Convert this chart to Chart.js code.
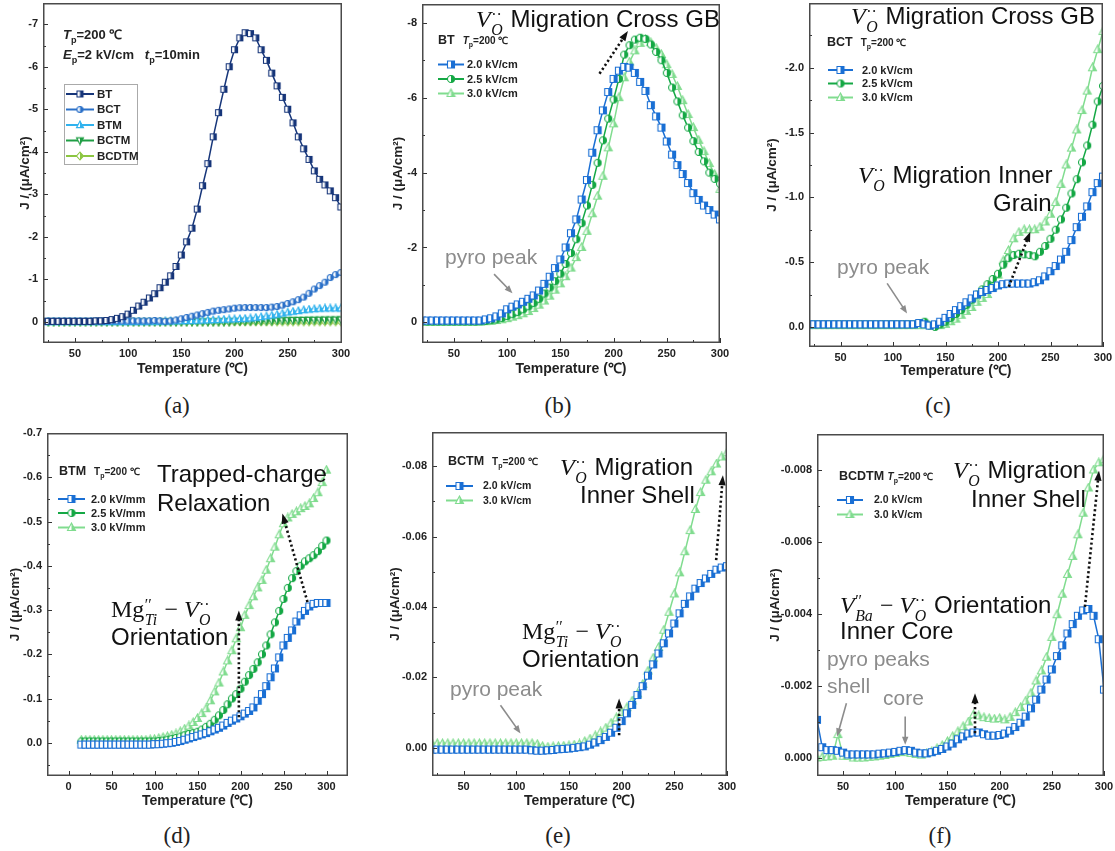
<!DOCTYPE html>
<html>
<head>
<meta charset="utf-8">
<title>TSDC current curves</title>
<script src="https://cdn.jsdelivr.net/npm/chart.js@4.4.1/dist/chart.umd.min.js"></script>
<style>
html,body{margin:0;padding:0;background:#fff}
#fig{position:relative;width:1115px;height:851px;overflow:hidden;background:#fff;font-family:"Liberation Sans",Arial,sans-serif}
#fig canvas{position:absolute}
.t{position:absolute;white-space:nowrap;line-height:1;color:#111}
.big{font-size:24px}
.gray{color:#8c8c8c;font-size:21px}
.hdr{font-weight:bold;font-size:12.5px;color:#222}
.hdr .tp{font-size:10px;margin-left:8px}
.hdr sub{font-size:0.7em}
.cap{font-family:"Liberation Serif","Times New Roman",serif;font-size:23px;color:#222;transform:translate(-50%,-50%)}
.math{font-family:"Liberation Serif","Times New Roman",serif;font-size:24px}
.mi{font-style:italic}
.ss{display:inline-flex;flex-direction:column;font-size:0.66em;line-height:0.95;vertical-align:0.42em;margin-left:0.03em;margin-right:0.08em}
</style>
</head>
<body>
<div id="fig">
  <canvas id="ca"></canvas>
  <canvas id="cb"></canvas>
  <canvas id="cc"></canvas>
  <canvas id="cd"></canvas>
  <canvas id="ce"></canvas>
  <canvas id="cf"></canvas>

  <!-- (a) -->
  <div class="t hdr" style="left:63px;top:28px;font-size:13px"><i>T</i><sub>p</sub>=200 ℃</div>
  <div class="t hdr" style="left:63px;top:48px;font-size:13px"><i>E</i><sub>p</sub>=2 kV/cm&nbsp;&nbsp;&nbsp;<i>t</i><sub>p</sub>=10min</div>

  <!-- (b) -->
  <div class="t big" style="left:476px;top:7px"><span class="math"><span class="mi">V</span><span class="ss"><span>··</span><span class="mi">O</span></span></span> Migration Cross GB</div>
  <div class="t hdr" style="left:438px;top:34px">BT<span class="tp"><i>T</i><sub>p</sub>=200 ℃</span></div>
  <div class="t gray" style="left:445px;top:246px">pyro peak</div>

  <!-- (c) -->
  <div class="t big" style="left:851px;top:4px"><span class="math"><span class="mi">V</span><span class="ss"><span>··</span><span class="mi">O</span></span></span> Migration Cross GB</div>
  <div class="t hdr" style="left:827px;top:36px">BCT<span class="tp">T<sub>p</sub>=200 ℃</span></div>
  <div class="t big" style="left:858px;top:163px"><span class="math"><span class="mi">V</span><span class="ss"><span>··</span><span class="mi">O</span></span></span> Migration Inner</div>
  <div class="t big" style="left:993px;top:191px">Grain</div>
  <div class="t gray" style="left:837px;top:256px">pyro peak</div>

  <!-- (d) -->
  <div class="t hdr" style="left:59px;top:465px">BTM<span class="tp">T<sub>p</sub>=200 ℃</span></div>
  <div class="t big" style="left:157px;top:462px">Trapped-charge</div>
  <div class="t big" style="left:157px;top:491px">Relaxation</div>
  <div class="t math" style="left:111px;top:597px">Mg<span class="ss"><span>′′</span><span class="mi">Ti</span></span> − <span class="mi">V</span><span class="ss"><span>··</span><span class="mi">O</span></span></div>
  <div class="t big" style="left:111px;top:625px">Orientation</div>

  <!-- (e) -->
  <div class="t hdr" style="left:448px;top:455px">BCTM<span class="tp">T<sub>p</sub>=200 ℃</span></div>
  <div class="t big" style="left:560px;top:455px"><span class="math"><span class="mi">V</span><span class="ss"><span>··</span><span class="mi">O</span></span></span> Migration</div>
  <div class="t big" style="left:580px;top:483px">Inner Shell</div>
  <div class="t math" style="left:522px;top:619px">Mg<span class="ss"><span>′′</span><span class="mi">Ti</span></span> − <span class="mi">V</span><span class="ss"><span>··</span><span class="mi">O</span></span></div>
  <div class="t big" style="left:522px;top:647px">Orientation</div>
  <div class="t gray" style="left:450px;top:678px">pyro peak</div>

  <!-- (f) -->
  <div class="t hdr" style="left:839px;top:470px">BCDTM <span class="tp" style="margin-left:0"><i>T</i><sub>p</sub>=200 ℃</span></div>
  <div class="t big" style="left:953px;top:458px"><span class="math"><span class="mi">V</span><span class="ss"><span>··</span><span class="mi">O</span></span></span> Migration</div>
  <div class="t big" style="left:971px;top:487px">Inner Shell</div>
  <div class="t big" style="left:840px;top:593px"><span class="math"><span class="mi">V</span><span class="ss"><span>′′</span><span class="mi">Ba</span></span> − <span class="mi">V</span><span class="ss"><span>··</span><span class="mi">O</span></span></span> Orientation</div>
  <div class="t big" style="left:840px;top:619px">Inner Core</div>
  <div class="t gray" style="left:827px;top:648px">pyro peaks</div>
  <div class="t gray" style="left:827px;top:675px">shell</div>
  <div class="t gray" style="left:883px;top:687px">core</div>

  <!-- panel captions -->
  <div class="t cap" style="left:177px;top:405px">(a)</div>
  <div class="t cap" style="left:558px;top:405px">(b)</div>
  <div class="t cap" style="left:938px;top:405px">(c)</div>
  <div class="t cap" style="left:177px;top:835px">(d)</div>
  <div class="t cap" style="left:558px;top:835px">(e)</div>
  <div class="t cap" style="left:940px;top:835px">(f)</div>
</div>

<script>
/* ==== Data: temperatures (℃) ==== */
const temps20 = [20,25,30,35,40,45,50,55,60,65,70,75,80,85,90,95,100,105,110,115,120,125,130,135,140,145,150,155,160,165,170,175,180,185,190,195,200,205,210,215,220,225,230,235,240,245,250,255,260,265,270,275,280,285,290,295,300];
const temps15 = [15,20,25,30,35,40,45,50,55,60,65,70,75,80,85,90,95,100,105,110,115,120,125,130,135,140,145,150,155,160,165,170,175,180,185,190,195,200,205,210,215,220,225,230,235,240,245,250,255,260,265,270,275,280,285,290,295,300];
const temps25 = [25,30,35,40,45,50,55,60,65,70,75,80,85,90,95,100,105,110,115,120,125,130,135,140,145,150,155,160,165,170,175,180,185,190,195,200,205,210,215,220,225,230,235,240,245,250,255,260,265,270,275,280,285,290,295,300];

/* ==== Tick labels ==== */
const xTicks = [50,100,150,200,250,300];
const xTicksD = [0,50,100,150,200,250,300];
const yTicksA = [-7,-6,-5,-4,-3,-2,-1,0];
const yTicksB = [-8,-6,-4,-2,0];
const yTicksC = [-2.0,-1.5,-1.0,-0.5,0.0];
const yTicksD = [-0.7,-0.6,-0.5,-0.4,-0.3,-0.2,-0.1,0.0];
const yTicksE = [-0.08,-0.06,-0.04,-0.02,0.00];
const yTicksF = [-0.008,-0.006,-0.004,-0.002,0.000];

/* ==== Data: J (μA/cm²) ==== */
// (a) BT, 2 kV/cm
const btA = [-0.01,-0.01,-0.01,-0.01,-0.01,-0.01,-0.01,-0.01,-0.01,-0.01,
  -0.02,-0.02,-0.03,-0.05,-0.08,-0.12,-0.18,-0.27,-0.37,-0.46,
  -0.56,-0.66,-0.80,-0.93,-1.08,-1.30,-1.57,-1.88,-2.20,-2.65,
  -3.20,-3.72,-4.35,-4.92,-5.47,-6.00,-6.40,-6.68,-6.80,-6.78,
  -6.68,-6.40,-6.15,-5.85,-5.55,-5.28,-5.00,-4.68,-4.35,-4.07,
  -3.82,-3.55,-3.35,-3.22,-3.08,-2.92,-2.70];

// (b) BT
const bt20 = [-0.05,-0.05,-0.05,-0.05,-0.05,-0.05,-0.05,-0.05,-0.05,-0.05,
  -0.05,-0.05,-0.08,-0.11,-0.16,-0.24,-0.35,-0.42,-0.48,-0.55,
  -0.63,-0.72,-0.85,-1.03,-1.22,-1.45,-1.68,-2.00,-2.38,-2.75,
  -3.28,-3.80,-4.53,-5.13,-5.66,-6.15,-6.50,-6.72,-6.82,-6.80,
  -6.66,-6.42,-6.18,-5.80,-5.50,-5.20,-4.83,-4.48,-4.20,-3.96,
  -3.72,-3.45,-3.27,-3.12,-3.00,-2.88,-2.75];
const bt25 = [-0.02,-0.02,-0.02,-0.02,-0.02,-0.02,-0.02,-0.02,-0.02,-0.02,
  -0.02,-0.03,-0.04,-0.06,-0.08,-0.12,-0.17,-0.22,-0.28,-0.35,
  -0.43,-0.52,-0.63,-0.77,-0.93,-1.10,-1.30,-1.56,-1.85,-2.22,
  -2.65,-3.12,-3.67,-4.26,-4.86,-5.44,-5.95,-6.50,-7.15,-7.40,
  -7.55,-7.60,-7.57,-7.42,-7.22,-7.00,-6.66,-6.27,-5.90,-5.53,
  -5.20,-4.84,-4.55,-4.30,-4.00,-3.83,-3.70];
const bt30 = [-0.01,-0.01,-0.01,-0.01,-0.01,-0.01,-0.01,-0.01,-0.01,-0.01,
  -0.01,-0.01,-0.02,-0.03,-0.05,-0.07,-0.10,-0.14,-0.18,-0.23,
  -0.29,-0.37,-0.46,-0.57,-0.70,-0.86,-1.03,-1.22,-1.45,-1.73,
  -2.00,-2.43,-2.90,-3.37,-3.90,-4.66,-5.30,-6.00,-6.53,-6.95,
  -7.25,-7.45,-7.55,-7.47,-7.32,-7.15,-6.88,-6.62,-6.30,-5.92,
  -5.55,-5.20,-4.86,-4.56,-4.24,-3.95,-3.55];

// (c) BCT
const bct20 = [-0.02,-0.02,-0.02,-0.02,-0.02,-0.02,-0.02,-0.02,-0.02,-0.02,
  -0.02,-0.02,-0.02,-0.02,-0.02,-0.02,-0.02,-0.02,-0.02,-0.02,
  -0.02,-0.03,-0.02,-0.01,-0.02,-0.04,-0.07,-0.10,-0.13,-0.16,
  -0.19,-0.22,-0.25,-0.27,-0.285,-0.30,-0.32,-0.33,-0.335,-0.335,
  -0.335,-0.335,-0.335,-0.345,-0.36,-0.39,-0.43,-0.47,-0.52,-0.58,
  -0.67,-0.77,-0.85,-0.93,-1.04,-1.11,-1.16];
const bct25 = [-0.02,-0.02,-0.02,-0.02,-0.02,-0.02,-0.02,-0.02,-0.02,-0.02,
  -0.02,-0.02,-0.02,-0.02,-0.02,-0.02,-0.02,-0.02,-0.02,-0.02,
  -0.02,-0.03,-0.04,-0.01,0.00,-0.02,-0.04,-0.07,-0.10,-0.13,
  -0.17,-0.21,-0.25,-0.29,-0.33,-0.37,-0.41,-0.48,-0.53,-0.555,
  -0.565,-0.56,-0.555,-0.545,-0.58,-0.625,-0.68,-0.75,-0.83,-0.92,
  -1.03,-1.14,-1.27,-1.40,-1.56,-1.74,-1.86];
const bct30 = [-0.01,-0.01,-0.01,-0.01,-0.01,-0.01,-0.01,-0.01,-0.01,-0.01,
  -0.01,-0.01,-0.01,-0.01,-0.01,-0.01,-0.01,-0.01,-0.01,-0.01,
  -0.01,-0.01,-0.01,-0.01,-0.01,-0.01,-0.02,-0.04,-0.06,-0.09,
  -0.12,-0.15,-0.19,-0.22,-0.25,-0.31,-0.40,-0.51,-0.59,-0.68,
  -0.73,-0.75,-0.75,-0.75,-0.77,-0.81,-0.87,-0.96,-1.10,-1.25,
  -1.38,-1.52,-1.67,-1.82,-2.00,-2.14,-2.28];

// (d) BTM
const btm20 = [0.004,0.004,0.004,0.004,0.004,0.004,0.004,0.004,0.004,0.004,
  0.004,0.004,0.004,0.004,0.004,0.004,0.004,0.003,0.003,0.002,
  0.001,0.000,-0.002,-0.004,-0.007,-0.010,-0.013,-0.016,-0.019,-0.022,
  -0.026,-0.030,-0.034,-0.039,-0.045,-0.050,-0.055,-0.060,-0.066,-0.072,
  -0.080,-0.095,-0.110,-0.128,-0.148,-0.168,-0.193,-0.220,-0.237,-0.254,
  -0.274,-0.288,-0.298,-0.308,-0.314,-0.316,-0.316,-0.316];
const btm25 = [-0.003,-0.003,-0.003,-0.003,-0.003,-0.003,-0.003,-0.003,-0.003,-0.003,
  -0.003,-0.003,-0.003,-0.003,-0.003,-0.003,-0.003,-0.003,-0.004,-0.005,
  -0.007,-0.009,-0.011,-0.014,-0.017,-0.020,-0.022,-0.025,-0.030,-0.036,
  -0.043,-0.052,-0.062,-0.074,-0.087,-0.100,-0.110,-0.122,-0.138,-0.153,
  -0.167,-0.182,-0.200,-0.220,-0.245,-0.272,-0.298,-0.325,-0.350,-0.372,
  -0.388,-0.400,-0.410,-0.417,-0.424,-0.433,-0.445,-0.457];
const btm30 = [-0.006,-0.006,-0.006,-0.006,-0.006,-0.006,-0.006,-0.006,-0.006,-0.006,
  -0.006,-0.006,-0.006,-0.006,-0.006,-0.006,-0.007,-0.008,-0.010,-0.012,
  -0.014,-0.017,-0.020,-0.025,-0.031,-0.038,-0.046,-0.055,-0.066,-0.077,
  -0.095,-0.115,-0.135,-0.160,-0.185,-0.208,-0.235,-0.260,-0.288,-0.310,
  -0.330,-0.350,-0.367,-0.390,-0.416,-0.442,-0.470,-0.495,-0.508,-0.516,
  -0.522,-0.529,-0.534,-0.540,-0.552,-0.565,-0.588,-0.616];

// (e) BCTM
const bctm20 = [0.0005,0.0005,0.0005,0.0005,0.0005,0.0005,0.0005,0.0005,0.0005,0.0005,
  0.0005,0.0005,0.0005,0.0005,0.0005,0.0005,0.0005,0.0005,0.0005,0.0007,
  0.0008,0.0008,0.0007,0.0006,0.0004,0.0003,0.0002,0.0000,-0.0002,-0.0004,
  -0.0009,-0.0015,-0.0022,-0.0031,-0.0043,-0.0057,-0.0076,-0.0098,-0.0122,-0.0150,
  -0.0175,-0.0205,-0.0237,-0.0268,-0.0297,-0.0325,-0.0353,-0.0382,-0.0409,-0.0430,
  -0.0452,-0.0468,-0.0481,-0.0494,-0.0506,-0.0512,-0.0516];
const bctm30 = [-0.0012,-0.0012,-0.0012,-0.0012,-0.0012,-0.0012,-0.0012,-0.0012,-0.0012,-0.0012,
  -0.0012,-0.0012,-0.0012,-0.0012,-0.0012,-0.0012,-0.0012,-0.0012,-0.0012,-0.0012,
  -0.0010,-0.0004,-0.0002,-0.0003,-0.0004,-0.0005,-0.0006,-0.0008,-0.0011,-0.0018,
  -0.0025,-0.0034,-0.0045,-0.0056,-0.0070,-0.0085,-0.0100,-0.0114,-0.0133,-0.0153,
  -0.0180,-0.0218,-0.0255,-0.0285,-0.0334,-0.0385,-0.0437,-0.0497,-0.0557,-0.0617,
  -0.0677,-0.0725,-0.0760,-0.0784,-0.0806,-0.0826,-0.0838];

// (f) BCDTM
const bcdtm20 = [-0.00106,-0.00030,-0.00022,-0.00022,-0.00020,-0.00015,-0.00010,-0.00010,-0.00010,-0.00010,
  -0.00010,-0.00010,-0.00012,-0.00013,-0.00015,-0.00017,-0.00020,-0.00022,-0.00020,-0.00015,
  -0.00013,-0.00013,-0.00016,-0.00020,-0.00025,-0.00032,-0.00040,-0.00052,-0.00060,-0.00068,
  -0.00071,-0.00071,-0.00066,-0.00062,-0.00062,-0.00064,-0.00068,-0.00076,-0.00086,-0.00098,
  -0.00115,-0.00138,-0.00162,-0.00190,-0.00218,-0.00246,-0.00283,-0.00313,-0.00346,-0.00372,
  -0.00395,-0.00410,-0.00414,-0.00395,-0.00330,-0.00190];
const bcdtm30 = [0.00000,-0.00002,-0.00003,-0.00005,-0.00065,-0.00005,-0.00005,0.00000,0.00000,0.00000,
  -0.00002,-0.00003,-0.00005,-0.00007,-0.00010,-0.00013,-0.00015,-0.00016,-0.00013,-0.00010,
  -0.00008,-0.00012,-0.00018,-0.00026,-0.00035,-0.00046,-0.00060,-0.00073,-0.00087,-0.00100,
  -0.00120,-0.00117,-0.00112,-0.00110,-0.00108,-0.00110,-0.00106,-0.00113,-0.00126,-0.00140,
  -0.00158,-0.00180,-0.00214,-0.00242,-0.00280,-0.00335,-0.00398,-0.00455,-0.00510,-0.00560,
  -0.00620,-0.00680,-0.00750,-0.00800,-0.00820,-0.00830];

/* ==== Style ==== */
const FONT = "'Liberation Sans', Arial, sans-serif";
const C_BT = '#17367a', C_BCT = '#2a70c8', C_BTM = '#30b2ee', C_BCTM = '#1f9e44', C_BCDTM = '#8cc641';
const C20 = '#1a6fd4', C25 = '#15a845', C30 = '#80dc8f';
const YT = 13.5, XT = 14, PADT = 12, PADR = 16;

Chart.defaults.font.family = FONT;

// half-filled marker (left open, right filled)
function marker(shape, color, s){
  const c = document.createElement('canvas');
  c.width = c.height = s + 3;
  const g = c.getContext('2d');
  const m = (s + 3) / 2, r = s / 2;
  const path = () => {
    g.beginPath();
    if(shape === 'rect') g.rect(m - r, m - r, s, s);
    else if(shape === 'circle') g.arc(m, m, r, 0, Math.PI * 2);
    else if(shape === 'tri'){ g.moveTo(m, m - r - 0.5); g.lineTo(m + r, m + r * 0.75); g.lineTo(m - r, m + r * 0.75); g.closePath(); }
    else if(shape === 'triDown'){ g.moveTo(m, m + r + 0.5); g.lineTo(m + r, m - r * 0.75); g.lineTo(m - r, m - r * 0.75); g.closePath(); }
    else { g.moveTo(m, m - r - 0.5); g.lineTo(m + r, m); g.lineTo(m, m + r + 0.5); g.lineTo(m - r, m); g.closePath(); }
  };
  path(); g.fillStyle = '#fff'; g.fill();
  g.save(); path(); g.clip(); g.fillStyle = color; g.fillRect(m, 0, m + 2, s + 3); g.restore();
  path(); g.strokeStyle = color; g.lineWidth = 1.1; g.stroke();
  return c;
}

function series(label, t, v, color, shape, size){
  return {
    label,
    data: t.map((x, i) => ({x, y: v[i]})),
    borderColor: color,
    backgroundColor: color,
    borderWidth: 1.5,
    pointStyle: marker(shape, color, size),
    pointRadius: 3,
    pointHoverRadius: 3,
    tension: 0
  };
}

/* ==== Frame / ticks / legend / arrows plugin ==== */
function minorVals(scale){
  const v = scale.ticks.map(t => t.value);
  if(v.length < 2) return [];
  const st = v[1] - v[0];
  const lo = Math.min(scale.min, scale.max), hi = Math.max(scale.min, scale.max);
  return [v[0] - st / 2, ...v.map(q => q + st / 2)].filter(q => q > lo && q < hi);
}

function arrowHead(ctx, x0, y0, x1, y1, len, wid){
  const a = Math.atan2(y1 - y0, x1 - x0);
  ctx.beginPath();
  ctx.moveTo(x1, y1);
  ctx.lineTo(x1 - len * Math.cos(a) + wid * Math.sin(a), y1 - len * Math.sin(a) - wid * Math.cos(a));
  ctx.lineTo(x1 - len * Math.cos(a) - wid * Math.sin(a), y1 - len * Math.sin(a) + wid * Math.cos(a));
  ctx.closePath();
  ctx.fill();
}

const framePlugin = {
  id: 'frame',
  afterDatasetsDraw(chart){
    const o = chart.options.plugins.frame || {};
    const {ctx, chartArea: a, scales: {x, y}} = chart;
    ctx.save();

    // arrows
    (o.arrows || []).forEach(ar => {
      const x0 = x.getPixelForValue(ar.f[0]), y0 = y.getPixelForValue(ar.f[1]);
      const x1 = x.getPixelForValue(ar.t[0]), y1 = y.getPixelForValue(ar.t[1]);
      const ang = Math.atan2(y1 - y0, x1 - x0);
      if(ar.k === 'dot'){
        ctx.strokeStyle = '#111'; ctx.fillStyle = '#111'; ctx.lineWidth = 2.6;
        ctx.setLineDash([2.2, 2.6]);
        ctx.beginPath(); ctx.moveTo(x0, y0); ctx.lineTo(x1 - 6 * Math.cos(ang), y1 - 6 * Math.sin(ang)); ctx.stroke();
        ctx.setLineDash([]);
        arrowHead(ctx, x0, y0, x1, y1, 10, 3.6);
      } else {
        ctx.strokeStyle = '#8c8c8c'; ctx.fillStyle = '#8c8c8c'; ctx.lineWidth = 1.6;
        ctx.beginPath(); ctx.moveTo(x0, y0); ctx.lineTo(x1 - 4 * Math.cos(ang), y1 - 4 * Math.sin(ang)); ctx.stroke();
        arrowHead(ctx, x0, y0, x1, y1, 8, 3.2);
      }
    });

    // legend
    const lg = o.legend;
    if(lg){
      ctx.font = lg.font;
      ctx.textBaseline = 'middle';
      ctx.textAlign = 'left';
      if(lg.box){
        ctx.strokeStyle = '#aaa'; ctx.lineWidth = 1;
        ctx.strokeRect(a.left + lg.box[0] + 0.5, a.top + lg.box[1] + 0.5, lg.box[2] - lg.box[0], lg.box[3] - lg.box[1]);
      }
      chart.data.datasets.forEach((ds, i) => {
        const yy = a.top + lg.rows[i];
        ctx.strokeStyle = ds.borderColor; ctx.lineWidth = 2;
        ctx.beginPath(); ctx.moveTo(a.left + lg.x0, yy); ctx.lineTo(a.left + lg.x1, yy); ctx.stroke();
        const mk = ds.pointStyle, mx = a.left + (lg.x0 + lg.x1) / 2;
        ctx.drawImage(mk, mx - mk.width / 2, yy - mk.height / 2);
        ctx.fillStyle = '#222';
        ctx.fillText(ds.label, a.left + lg.tx, yy + 0.5);
      });
    }

    // inward ticks
    ctx.strokeStyle = '#333'; ctx.lineWidth = 1;
    ctx.beginPath();
    x.ticks.forEach(t => { const p = Math.round(x.getPixelForValue(t.value)) + 0.5; ctx.moveTo(p, a.bottom); ctx.lineTo(p, a.bottom - 5); });
    minorVals(x).forEach(v => { const p = Math.round(x.getPixelForValue(v)) + 0.5; ctx.moveTo(p, a.bottom); ctx.lineTo(p, a.bottom - 3); });
    y.ticks.forEach(t => { const p = Math.round(y.getPixelForValue(t.value)) + 0.5; ctx.moveTo(a.left, p); ctx.lineTo(a.left + 5, p); });
    minorVals(y).forEach(v => { const p = Math.round(y.getPixelForValue(v)) + 0.5; ctx.moveTo(a.left, p); ctx.lineTo(a.left + 3, p); });
    ctx.stroke();

    // box
    ctx.strokeStyle = '#4a4a4a'; ctx.lineWidth = 1.5;
    ctx.strokeRect(a.left + 0.75, a.top + 0.75, a.right - a.left - 1.5, a.bottom - a.top - 1.5);
    ctx.restore();
  }
};

/* ==== Panels ==== */
function buildPanel(id, p, datasets, ax, frame){
  const cv = document.getElementById(id);
  const cx = Math.round(p.ytx - 0.6 * YT), cy = p.T - PADT;
  const w = Math.round(p.R + PADR - cx), h = Math.round(p.xty + 0.6 * XT - cy);
  cv.width = w; cv.height = h;
  cv.style.left = cx + 'px'; cv.style.top = cy + 'px';
  cv.style.width = w + 'px'; cv.style.height = h + 'px';
  const yw = p.L - cx, xh = cy + h - p.B;

  return new Chart(cv.getContext('2d'), {
    type: 'line',
    data: { datasets },
    plugins: [framePlugin],
    options: {
      responsive: false,
      animation: false,
      devicePixelRatio: 1,
      layout: { padding: { top: PADT, right: PADR, left: 0, bottom: 0 } },
      plugins: { legend: { display: false }, tooltip: { enabled: false }, frame },
      scales: {
        x: {
          type: 'linear', min: ax.xmin, max: ax.xmax,
          grid: { display: false, drawTicks: false }, border: { display: false },
          afterBuildTicks: s => { s.ticks = ax.xt.map(v => ({value: v})); },
          ticks: { padding: 4, color: '#222', maxRotation: 0, autoSkip: false,
                   font: { size: 11, weight: 'bold' } },
          title: { display: true, text: 'Temperature (℃)', color: '#222', padding: 0, font: { size: XT, weight: 'bold' } },
          afterFit: s => { s.height = xh; }
        },
        y: {
          type: 'linear', reverse: true, min: ax.ymin, max: ax.ymax,
          grid: { display: false, drawTicks: false }, border: { display: false },
          afterBuildTicks: s => { s.ticks = ax.yt.map(v => ({value: v})); },
          ticks: { padding: 5, color: '#222', autoSkip: false,
                   font: { size: 11, weight: 'bold' },
                   callback: v => v.toFixed(ax.ydec) },
          title: { display: true, text: 'J / (μA/cm²)', color: '#222', padding: 0, font: { size: YT, weight: 'bold' } },
          afterFit: s => { s.width = yw; }
        }
      }
    }
  });
}

const P = {
  a: {L: 43,  T: 3,   R: 342,  B: 343, ytx: 25,  xty: 370},
  b: {L: 422, T: 4,   R: 720,  B: 343, ytx: 398, xty: 370},
  c: {L: 809, T: 3,   R: 1103, B: 347, ytx: 772, xty: 372},
  d: {L: 47,  T: 433, R: 348,  B: 776, ytx: 15,  xty: 802},
  e: {L: 432, T: 432, R: 727,  B: 776, ytx: 395, xty: 802},
  f: {L: 817, T: 434, R: 1104, B: 776, ytx: 775, xty: 802}
};

const legFont = 'bold 11px ' + FONT;

// (a)
buildPanel('ca', P.a, [
  series('BT', temps20, btA, C_BT, 'rect', 6),
  series('BCT', temps20, bct20, C_BCT, 'circle', 6),
  series('BTM', temps15, btm20, C_BTM, 'tri', 7),
  series('BCTM', temps20, bctm20, C_BCTM, 'triDown', 7),
  series('BCDTM', temps25, bcdtm20, C_BCDTM, 'diamond', 7)
], {xmin: 20, xmax: 301, xt: xTicks, ymin: -7.5, ymax: 0.5, yt: yTicksA, ydec: 0},
{ legend: {x0: 23, x1: 51, tx: 54, rows: [91, 106.5, 122, 137.5, 153], box: [21, 81, 94, 161], font: 'bold 11.5px ' + FONT} });

// (b)
buildPanel('cb', P.b, [
  series('2.0 kV/cm', temps20, bt20, C20, 'rect', 7),
  series('2.5 kV/cm', temps20, bt25, C25, 'circle', 7),
  series('3.0 kV/cm', temps20, bt30, C30, 'tri', 8)
], {xmin: 20, xmax: 300, xt: xTicks, ymin: -8.5, ymax: 0.55, yt: yTicksB, ydec: 0},
{ legend: {x0: 16, x1: 42, tx: 45, rows: [60.5, 75, 89.5], font: legFont},
  arrows: [{k: 'gray', f: [87.7, -1.29], t: [105, -0.78]}, {k: 'dot', f: [186.8, -6.64], t: [213.5, -7.78]}] });

// (c)
buildPanel('cc', P.c, [
  series('2.0 kV/cm', temps20, bct20, C20, 'rect', 7),
  series('2.5 kV/cm', temps20, bct25, C25, 'circle', 7),
  series('3.0 kV/cm', temps20, bct30, C30, 'tri', 8)
], {xmin: 20, xmax: 300, xt: xTicks, ymin: -2.5, ymax: 0.155, yt: yTicksC, ydec: 1},
{ legend: {x0: 19, x1: 44, tx: 53, rows: [67, 80.5, 94.5], font: legFont},
  arrows: [{k: 'gray', f: [94.4, -0.336], t: [113.4, -0.104]}, {k: 'dot', f: [210.2, -0.31], t: [230.8, -0.735]}] });

// (d)
buildPanel('cd', P.d, [
  series('2.0 kV/mm', temps15, btm20, C20, 'rect', 7),
  series('2.5 kV/mm', temps15, btm25, C25, 'circle', 7),
  series('3.0 kV/mm', temps15, btm30, C30, 'tri', 8)
], {xmin: -25, xmax: 325, xt: xTicksD, ymin: -0.7, ymax: 0.075, yt: yTicksD, ydec: 1},
{ legend: {x0: 11, x1: 38, tx: 44, rows: [66, 80, 94.5], font: legFont},
  arrows: [{k: 'dot', f: [198.1, -0.058], t: [198.1, -0.299]}, {k: 'dot', f: [277.9, -0.318], t: [248.7, -0.518]}] });

// (e)
buildPanel('ce', P.e, [
  series('2.0 kV/cm', temps20, bctm20, C20, 'rect', 7),
  series('3.0 kV/cm', temps20, bctm30, C30, 'tri', 8)
], {xmin: 20, xmax: 300, xt: xTicks, ymin: -0.0897, ymax: 0.008, yt: yTicksE, ydec: 2},
{ legend: {x0: 14, x1: 41, tx: 51, rows: [54, 68.5], font: 'bold 10.5px ' + FONT},
  arrows: [{k: 'gray', f: [85, -0.0121], t: [104, -0.0041]}, {k: 'dot', f: [197.6, -0.0036], t: [197.6, -0.014]},
           {k: 'dot', f: [289.7, -0.0533], t: [296.1, -0.0774]}] });

// (f)
buildPanel('cf', P.f, [
  series('2.0 kV/cm', temps25, bcdtm20, C20, 'rect', 7),
  series('3.0 kV/cm', temps25, bcdtm30, C30, 'tri', 8)
], {xmin: 25, xmax: 300, xt: xTicks, ymin: -0.009, ymax: 0.0005, yt: yTicksF, ydec: 3},
{ legend: {x0: 20, x1: 46, tx: 57, rows: [66, 80.5], font: 'bold 10.5px ' + FONT},
  arrows: [{k: 'gray', f: [53.2, -0.00152], t: [44.3, -0.0006]}, {k: 'gray', f: [109.5, -0.00115], t: [109.5, -0.00037]},
           {k: 'dot', f: [176.4, -0.00069], t: [176.4, -0.0018]}, {k: 'dot', f: [281.7, -0.0042], t: [295.2, -0.00798]}] });
</script>
</body>
</html>
